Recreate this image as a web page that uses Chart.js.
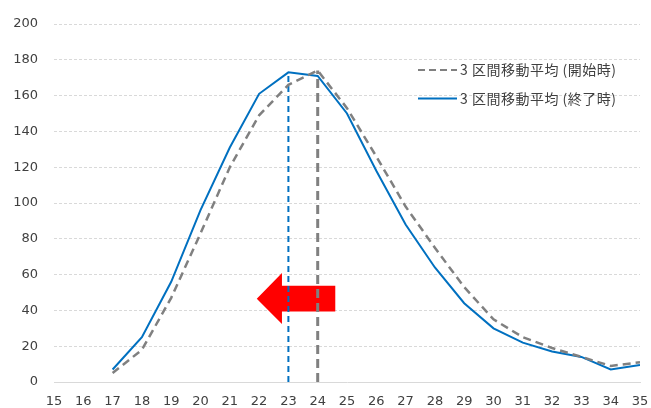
<!DOCTYPE html>
<html>
<head>
<meta charset="utf-8">
<script src="https://cdn.jsdelivr.net/npm/chart.js@4"></script>
<style>
  html, body { margin: 0; padding: 0; background: #fff; overflow: hidden; }
</style>
</head>
<body>
<canvas id="myChart" width="651" height="408"></canvas>
<script>
// 日 (横軸)
const days = [17, 18, 19, 20, 21, 22, 23, 24, 25, 26, 27, 28, 29, 30, 31, 32, 33, 34, 35];
// 3 区間移動平均 (開始時)
const startAvg = [5, 18, 47, 83, 120, 149, 166, 174, 153, 126, 98, 75, 53, 35, 25, 19, 14, 9, 11];
// 3 区間移動平均 (終了時)
const endAvg = [7, 25, 56, 96, 131, 161, 173, 171, 150, 118, 88, 64, 44, 30, 22, 17, 14, 7, 9.5];
// 軸の範囲
const xMin = 15, xMax = 35;
const yMin = 0, yMax = 200, yStep = 20;
// ピーク位置
const peakStart = 24, peakEnd = 23;
const labels = ['3 区間移動平均 (開始時)', '3 区間移動平均 (終了時)'];

const BLUE = '#0070C0';
const GRAY = '#808080';

const toPoints = vals => days.map((d, i) => ({ x: d, y: vals[i] }));
const vline = (day, vals) => [{ x: day, y: 0 }, { x: day, y: vals[days.indexOf(day)] }];

// 赤い矢印 (左向き)
const arrowPlugin = {
  id: 'arrow',
  beforeDatasetsDraw(chart) {
    const xs = chart.scales.x, ys = chart.scales.y;
    const ctx = chart.ctx;
    const tip = xs.getPixelForValue(21.92);
    const base = xs.getPixelForValue(22.78);
    const tail = xs.getPixelForValue(24.6);
    const yc = ys.getPixelForValue(46.5);
    const bodyT = ys.getPixelForValue(53.8), bodyB = ys.getPixelForValue(39.4);
    const headT = ys.getPixelForValue(60.9), headB = ys.getPixelForValue(32.4);
    ctx.save();
    ctx.fillStyle = '#FF0000';
    ctx.beginPath();
    ctx.moveTo(tip, yc);
    ctx.lineTo(base, headT);
    ctx.lineTo(base, bodyT);
    ctx.lineTo(tail, bodyT);
    ctx.lineTo(tail, bodyB);
    ctx.lineTo(base, bodyB);
    ctx.lineTo(base, headB);
    ctx.closePath();
    ctx.fill();
    ctx.restore();
  }
};

// 凡例 (グラフ内右上)
const legendPlugin = {
  id: 'innerLegend',
  afterDraw(chart) {
    const ctx = chart.ctx;
    const rows = [chart.data.datasets[0], chart.data.datasets[1]];
    ctx.save();
    ctx.font = '14px "Noto Sans CJK JP"';
    ctx.fillStyle = '#404040';
    ctx.textBaseline = 'middle';
    if ('letterSpacing' in ctx) ctx.letterSpacing = '0.5px';
    rows.forEach((ds, i) => {
      const y = 70 + i * 28.5;
      ctx.strokeStyle = ds.borderColor;
      ctx.lineWidth = 2;
      ctx.setLineDash(ds.borderDash ? [7, 4] : []);
      ctx.beginPath();
      ctx.moveTo(418, y);
      ctx.lineTo(457, y);
      ctx.stroke();
      ctx.fillText(ds.label, 460, y);
    });
    ctx.restore();
  }
};

const ctx = document.getElementById('myChart');
new Chart(ctx, {
  type: 'line',
  data: {
    datasets: [
      {
        label: labels[0],
        data: toPoints(startAvg),
        borderColor: GRAY,
        borderWidth: 2.5,
        borderDash: [8, 5],
        pointRadius: 0,
        tension: 0,
      },
      {
        label: labels[1],
        data: toPoints(endAvg),
        borderColor: BLUE,
        borderWidth: 2,
        pointRadius: 0,
        tension: 0,
      },
      {
        label: 'peakStart',
        data: vline(peakStart, startAvg),
        borderColor: GRAY,
        borderWidth: 3,
        borderDash: [9, 5],
        pointRadius: 0,
      },
      {
        label: 'peakEnd',
        data: vline(peakEnd, endAvg),
        borderColor: BLUE,
        borderWidth: 2,
        borderDash: [6, 4],
        pointRadius: 0,
      },
    ]
  },
  options: {
    responsive: false,
    animation: false,
    devicePixelRatio: 1,
    layout: { padding: { left: 0, right: 11, top: 24, bottom: 0 } },
    plugins: {
      legend: { display: false },
      tooltip: { enabled: false },
    },
    scales: {
      x: {
        type: 'linear',
        min: xMin,
        max: xMax,
        ticks: {
          stepSize: 1,
          padding: 12,
          maxRotation: 0,
          color: '#404040',
          font: { family: 'DejaVu Sans', size: 13 },
        },
        grid: { display: false, drawTicks: false },
        border: { display: true, color: '#d9d9d9', width: 1 },
        afterFit(scale) {
          scale.height = 26;
          scale.paddingLeft = 0;
          scale.paddingRight = 0;
        },
      },
      y: {
        min: yMin,
        max: yMax,
        ticks: {
          stepSize: yStep,
          padding: 16,
          color: '#404040',
          font: { family: 'DejaVu Sans', size: 13 },
        },
        grid: { color: '#d9d9d9', drawTicks: false },
        border: { display: false, dash: [3, 2] },
        afterFit(scale) { scale.width = 54; },
      }
    }
  },
  plugins: [arrowPlugin, legendPlugin]
});
</script>
</body>
</html>
